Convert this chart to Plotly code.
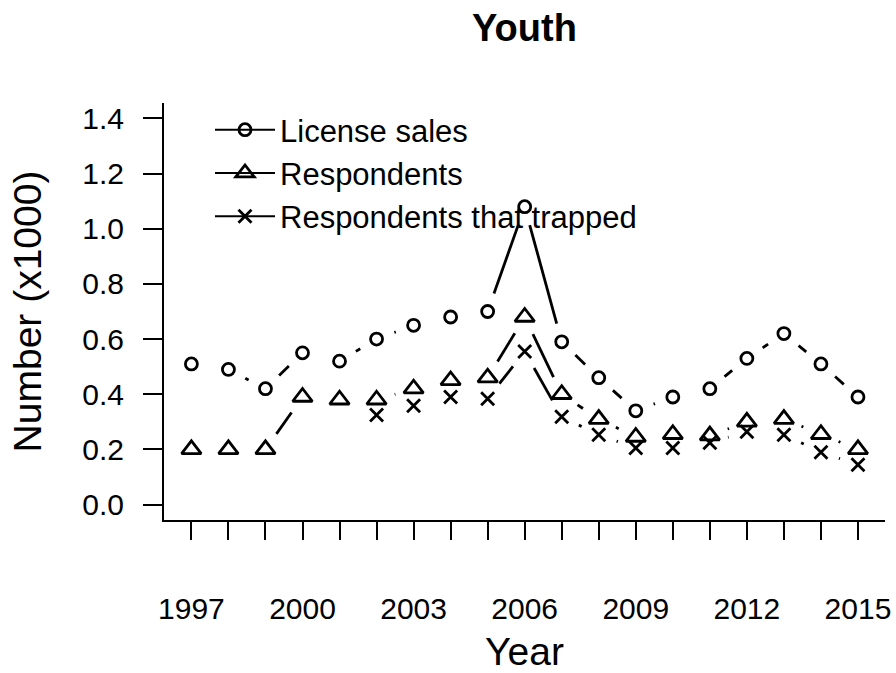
import math
import plotly.graph_objects as go

years = list(range(1997, 2016))
license_sales = [0.51, 0.49, 0.42, 0.55, 0.52, 0.60, 0.65, 0.68, 0.70, 1.08,
                 0.59, 0.46, 0.34, 0.39, 0.42, 0.53, 0.62, 0.51, 0.39]
respondents = [0.20, 0.20, 0.20, 0.39, 0.38, 0.38, 0.42, 0.45, 0.46, 0.68,
               0.40, 0.31, 0.245, 0.255, 0.25, 0.30, 0.31, 0.255, 0.20]
trapped = [None, None, None, None, None, 0.325, 0.358, 0.39, 0.384, 0.555,
           0.318, 0.253, 0.205, 0.205, 0.224, 0.264, 0.253, 0.19, 0.144]
tick_years = years
tick_labels = [str(y) if (y - 1997) % 3 == 0 else "" for y in years]
y_ticks = [0.0, 0.2, 0.4, 0.6, 0.8, 1.0, 1.2, 1.4]

W, H = 896, 673
M_L, M_R, M_T, M_B = 164, 11, 103, 153
X_RANGE = [1996.26, 2015.73]
Y_RANGE = [-0.056, 1.456]
PW, PH = W - M_L - M_R, H - M_T - M_B
PX_X = PW / (X_RANGE[1] - X_RANGE[0])
PX_Y = PH / (Y_RANGE[1] - Y_RANGE[0])
GAP = 19  # pixel gap around points (R type="b")
FONT = "Liberation Sans, Arial, sans-serif"


def gapped(xs, ys, gap=GAP):
    sx, sy = [], []
    for i in range(len(xs) - 1):
        if ys[i] is None or ys[i + 1] is None:
            continue
        ddx, ddy = xs[i + 1] - xs[i], ys[i + 1] - ys[i]
        L = math.hypot(ddx * PX_X, ddy * PX_Y)
        if L <= 2 * gap:
            continue
        f = gap / L
        sx += [xs[i] + f * ddx, xs[i + 1] - f * ddx, None]
        sy += [ys[i] + f * ddy, ys[i + 1] - f * ddy, None]
    return sx, sy


def isolated(xs, ys):
    ox, oy = [], []
    for x, y in zip(xs, ys):
        ox += [x, None]
        oy += [y, None]
    return ox, oy


series = [
    ("License sales", license_sales, "circle-open", 12),
    ("Respondents", respondents, "triangle-up-open", 17),
    ("Respondents that trapped", trapped, "x-thin-open", 13),
]

fig = go.Figure()
for name, vals, sym, size in series:
    sx, sy = gapped(years, vals)
    fig.add_trace(go.Scatter(x=sx, y=sy, mode="lines", showlegend=False,
                             line=dict(color="black", width=2.8),
                             hoverinfo="skip"))
for name, vals, sym, size in series:
    ox, oy = isolated(years, vals)
    fig.add_trace(go.Scatter(x=ox, y=oy, mode="lines+markers", name=name,
                             connectgaps=False,
                             line=dict(color="black", width=2),
                             marker=dict(symbol=sym, size=size, color="black",
                                         line=dict(color="black", width=2.8))))

fig.update_layout(
    width=W, height=H,
    margin=dict(l=M_L, r=M_R, t=M_T, b=M_B, autoexpand=False),
    plot_bgcolor="white", paper_bgcolor="white",
    font=dict(family=FONT, size=30, color="black"),
    title=dict(text="<b>Youth</b>", x=0.5, xref="paper", xanchor="center",
               y=1 - 28 / H, yanchor="middle",
               font=dict(family=FONT, size=38, color="black")),
    legend=dict(x=46 / PW, y=1 - 0 / PH,
                xanchor="left", yanchor="top", bgcolor="rgba(0,0,0,0)",
                font=dict(family=FONT, size=31, color="black"),
                itemwidth=60),
    xaxis=dict(range=X_RANGE, tickmode="array", tickvals=tick_years, ticktext=tick_labels,
               showline=True, linecolor="black", linewidth=2, mirror=False,
               ticks="outside", ticklen=18, tickwidth=2, tickcolor="black",
               showgrid=False, zeroline=False, ticklabelstandoff=43,
               tickfont=dict(family=FONT, size=30, color="black"),
               title=dict(text="Year", standoff=17,
                          font=dict(family=FONT, size=39, color="black")),
               automargin=False),
    yaxis=dict(range=Y_RANGE, tickmode="array", tickvals=y_ticks,
               ticktext=[f"{v:.1f}" for v in y_ticks],
               showline=True, linecolor="black", linewidth=2, mirror=False,
               ticks="outside", ticklen=19, tickwidth=2, tickcolor="black",
               showgrid=False, zeroline=False, ticklabelstandoff=13,
               tickfont=dict(family=FONT, size=30, color="black"),
               title=dict(text="Number (x1000)", standoff=29,
                          font=dict(family=FONT, size=39, color="black")),
               automargin=False),
)

fig.write_html(
    "out.html",
    config={"displayModeBar": False},
    post_script="document.body.style.margin='0';document.body.style.overflow='hidden';",
)
